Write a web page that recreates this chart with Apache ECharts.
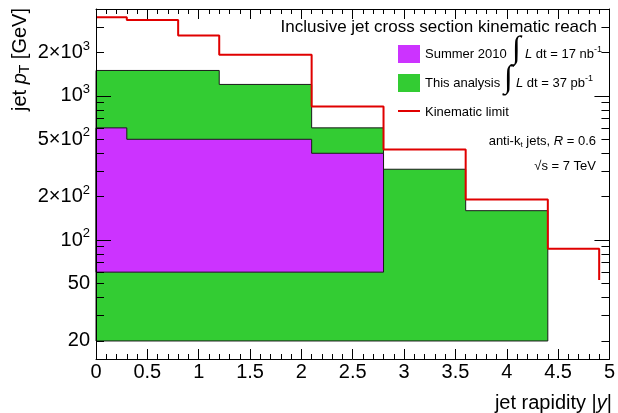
<!DOCTYPE html>
<html><head><meta charset="utf-8">
<script src="https://cdn.jsdelivr.net/npm/echarts@6/dist/echarts.min.js"></script>
<style>html,body{margin:0;padding:0;background:#fff}#c{width:618px;height:413px}</style>
</head><body><div id="c"></div>
<script>
// ---- data ----
const greenEdges = [0, 1.2, 2.1, 2.8, 3.6, 4.4];
const greenPt = [1500, 1200, 600, 310, 160];
const greenBase = 20;
const purpleEdges = [0, 0.3, 2.1, 2.8];
const purplePt = [600, 500, 400];
const purpleBase = 60;
const limitEdges = [0, 0.3, 0.8, 1.2, 2.1, 2.8, 3.6, 4.4, 4.9];
const limitPt = [3500, 3350, 2620, 1930, 845, 424, 191, 87];
const limitEnd = 53;
const yLabelValues = [20, 50, 100, 200, 500, 1000, 2000];
const yLabelTexts = ['20', '50', '10{s|2}', '2×10{s|2}', '5×10{s|2}', '10{s|3}', '2×10{s|3}'];
const yMinorTicks = [20, 30, 40, 50, 60, 70, 80, 90, 200, 300, 400, 500, 600, 700, 800, 900, 2000, 3000, 4000];
const yMajorTicks = [100, 1000];

const FF = 'Liberation Sans';
const GREEN = '#33cc33', PURPLE = '#cc33ff', RED = '#e00000';

function histRenderer(edges, vals, base, color) {
  return function (params, api) {
    const pts = [api.coord([edges[0], base])];
    for (let i = 0; i < vals.length; i++) {
      pts.push(api.coord([edges[i], vals[i]]));
      pts.push(api.coord([edges[i + 1], vals[i]]));
    }
    pts.push(api.coord([edges[edges.length - 1], base]));
    return { type: 'polygon', shape: { points: pts },
      style: { fill: color, stroke: '#1a1a1a', lineWidth: 1 } };
  };
}

const limitData = limitPt.map((v, i) => [limitEdges[i], v]);
limitData.push([limitEdges[limitEdges.length - 1], limitPt[limitPt.length - 1]]);
limitData.push([limitEdges[limitEdges.length - 1], limitEnd]);

const lineS = { color: '#000', width: 1 };
function xAx(pos, labels) {
  return { type: 'value', position: pos, min: 0, max: 5, interval: 0.5, z: 10,
    axisLine: { show: true, onZero: false, lineStyle: lineS },
    axisTick: { show: true, inside: true, length: 10, lineStyle: lineS },
    minorTick: { show: true, splitNumber: 5, length: 5, lineStyle: lineS },
    axisLabel: { show: labels, fontSize: 20, color: '#000', margin: 3, fontFamily: FF },
    splitLine: { show: false }, minorSplitLine: { show: false } };
}
function yAx(pos, ticks, len, labels, line) {
  return { type: 'log', logBase: 10, position: pos, min: 15, max: 4000, z: 10,
    axisLine: { show: line, onZero: false, lineStyle: lineS },
    axisTick: { show: true, inside: true, length: len, customValues: ticks, lineStyle: lineS },
    axisLabel: labels ? {
      show: true, customValues: yLabelValues, margin: 6, color: '#000',
      fontSize: 20, fontFamily: FF, lineHeight: 26,
      formatter: function (v) {
        const i = yLabelValues.findIndex(t => Math.abs(t - v) / t < 1e-6);
        return i >= 0 ? yLabelTexts[i] : '';
      },
      rich: { s: { fontSize: 13, fontFamily: FF, lineHeight: 13, verticalAlign: 'top', color: '#000' } }
    } : { show: false },
    splitLine: { show: false }, minorTick: { show: false } };
}

const chart = echarts.init(document.getElementById('c'));
chart.setOption({
  animation: false,
  backgroundColor: '#fff',
  textStyle: { fontFamily: FF },
  grid: { left: 96, right: 5, top: 9, bottom: 54, containLabel: false },
  xAxis: [xAx('bottom', true), xAx('top', false)],
  yAxis: [
    yAx('left', yMinorTicks, 8, true, true),
    yAx('left', yMajorTicks, 15, false, false),
    yAx('right', yMinorTicks, 8, false, true),
    yAx('right', yMajorTicks, 15, false, false)
  ],
  series: [
    { type: 'custom', name: 'This analysis', xAxisIndex: 0, yAxisIndex: 0, z: 2,
      renderItem: histRenderer(greenEdges, greenPt, greenBase, GREEN),
      data: [[greenEdges[0], greenBase]], silent: true },
    { type: 'custom', name: 'Summer 2010', xAxisIndex: 0, yAxisIndex: 0, z: 3,
      renderItem: histRenderer(purpleEdges, purplePt, purpleBase, PURPLE),
      data: [[purpleEdges[0], purpleBase]], silent: true },
    { type: 'line', name: 'Kinematic limit', xAxisIndex: 0, yAxisIndex: 0, z: 4,
      step: 'end', data: limitData, showSymbol: false, symbol: 'none',
      lineStyle: { color: RED, width: 2 }, silent: true }
  ],
  graphic: [
    { type: 'text', x: 597, y: 27, style: { text: 'Inclusive jet cross section kinematic reach',
      fontSize: 17, fontFamily: FF, fill: '#000', align: 'right', verticalAlign: 'middle' } },
    { type: 'rect', shape: { x: 398, y: 45, width: 22, height: 18 }, style: { fill: PURPLE } },
    { type: 'text', x: 425, y: 54, style: { text: 'Summer 2010', fontSize: 13, fontFamily: FF,
      fill: '#000', verticalAlign: 'middle' } },
    { type: 'text', x: 512, y: 50, style: { text: '∫', fontSize: 32, fontFamily: 'Liberation Serif',
      fill: '#000', verticalAlign: 'middle' } },
    { type: 'text', x: 525, y: 54, style: { text: '{i|L} dt = 17 nb{s|-1}', fontSize: 13, fontFamily: FF,
      fill: '#000', verticalAlign: 'middle', lineHeight: 18,
      rich: { i: { fontSize: 13, fontFamily: FF, fontStyle: 'italic', lineHeight: 18 },
              s: { fontSize: 9, fontFamily: FF, lineHeight: 9, verticalAlign: 'top' } } } },
    { type: 'rect', shape: { x: 398, y: 74, width: 22, height: 18 }, style: { fill: GREEN } },
    { type: 'text', x: 425, y: 83, style: { text: 'This analysis', fontSize: 13, fontFamily: FF,
      fill: '#000', verticalAlign: 'middle' } },
    { type: 'text', x: 504, y: 79, style: { text: '∫', fontSize: 32, fontFamily: 'Liberation Serif',
      fill: '#000', verticalAlign: 'middle' } },
    { type: 'text', x: 516, y: 83, style: { text: '{i|L} dt = 37 pb{s|-1}', fontSize: 13, fontFamily: FF,
      fill: '#000', verticalAlign: 'middle', lineHeight: 18,
      rich: { i: { fontSize: 13, fontFamily: FF, fontStyle: 'italic', lineHeight: 18 },
              s: { fontSize: 9, fontFamily: FF, lineHeight: 9, verticalAlign: 'top' } } } },
    { type: 'line', shape: { x1: 398, y1: 111, x2: 420, y2: 111 }, style: { stroke: RED, lineWidth: 2 } },
    { type: 'text', x: 425, y: 112, style: { text: 'Kinematic limit', fontSize: 13, fontFamily: FF,
      fill: '#000', verticalAlign: 'middle' } },
    { type: 'text', x: 596, y: 141, style: { text: 'anti-k{t|t} jets, {i|R} = 0.6', fontSize: 13, fontFamily: FF,
      fill: '#000', align: 'right', verticalAlign: 'middle', lineHeight: 16,
      rich: { i: { fontSize: 13, fontFamily: FF, fontStyle: 'italic', lineHeight: 16 },
              t: { fontSize: 8, fontFamily: FF, lineHeight: 8, verticalAlign: 'bottom' } } } },
    { type: 'text', x: 596, y: 166, style: { text: '√s = 7 TeV', fontSize: 13, fontFamily: FF,
      fill: '#000', align: 'right', verticalAlign: 'middle' } },
    { type: 'text', x: 113, y: 315, style: { text: 'ATLAS', fontSize: 20, fontWeight: 'bold',
      fontStyle: 'italic', fontFamily: FF, fill: '#000', verticalAlign: 'middle' } },
    { type: 'text', x: 20, y: 8, rotation: Math.PI / 2, style: {
      text: 'jet {i|p}{t|T} [GeV]', fontSize: 20, fontFamily: FF, fill: '#000',
      align: 'right', verticalAlign: 'middle', lineHeight: 24,
      rich: { i: { fontSize: 20, fontFamily: FF, fontStyle: 'italic', lineHeight: 24 },
              t: { fontSize: 14, fontFamily: FF, lineHeight: 14, verticalAlign: 'bottom' } } } },
    { type: 'text', x: 612, y: 403, style: {
      text: 'jet rapidity |{i|y}|', fontSize: 20, fontFamily: FF, fill: '#000',
      align: 'right', verticalAlign: 'middle', lineHeight: 24,
      rich: { i: { fontSize: 20, fontFamily: FF, fontStyle: 'italic', lineHeight: 24 } } } }
  ]
});
</script>
</body></html>
